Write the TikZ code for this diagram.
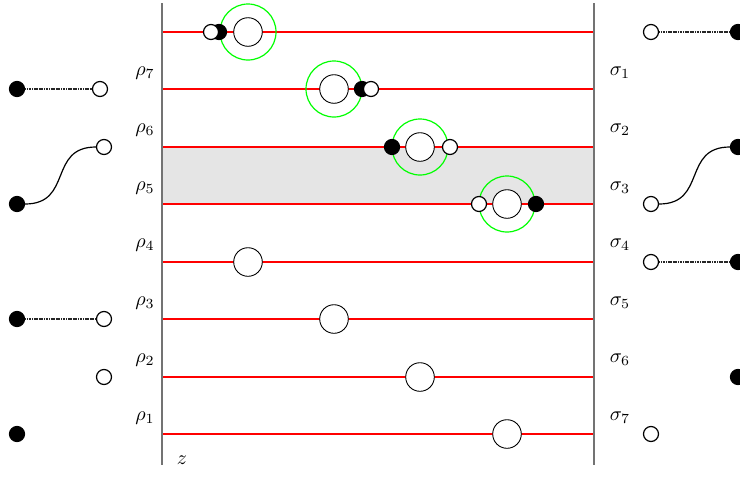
\documentclass[tikz,border=0pt]{standalone}
\usetikzlibrary{calc}
\begin{document}
\begin{tikzpicture}[x=0.5pt,y=-0.5pt,
  axisline/.style={draw=black!55,line width=0.8pt},
  level/.style={draw=red,line width=0.65pt},
  big/.style={circle,draw=black,fill=white,line width=0.45pt,minimum size=14.3pt,inner sep=0pt},
  halo/.style={circle,draw=green,line width=0.6pt,minimum size=28pt,inner sep=0pt},
  wdot/.style={circle,draw=black,fill=white,line width=0.6pt,minimum size=7.5pt,inner sep=0pt},
  bdot/.style={circle,draw=black,fill=black,line width=0.6pt,minimum size=7.5pt,inner sep=0pt},
  link/.style={draw=black!85,dash pattern=on 0.6pt off 0.25pt,line width=0.55pt},
  curvelink/.style={draw=black,line width=0.6pt},
  lab/.style={inner sep=0pt}]
\useasboundingbox (0,0) rectangle (740,493);
% shaded band
\fill[black!10,rounded corners=2pt] (162,147) rectangle (594,204);
% levels
\foreach \y/\n in {32/0,89/1,147/2,204/3,262/4,319/5,377/6,434/7}{
  \coordinate (L\n) at (162,\y);
  \coordinate (R\n) at (594,\y);
  \draw[level] (L\n) -- (R\n);
}
% vertical axes
\coordinate (lt) at (162,3); \coordinate (lb) at (162,465);
\coordinate (rt) at (594,3); \coordinate (rb) at (594,465);
\draw[axisline] (lt) -- (lb);
\draw[axisline] (rt) -- (rb);
% green halos
\node[halo] (h1) at (248,32) {};
\node[halo] (h2) at (334,89) {};
\node[halo] (h3) at (420,147) {};
\node[halo] (h4) at (507,204) {};
% big circles
\node[big] (c1) at (248,32) {};
\node[big] (c2) at (334,89) {};
\node[big] (c3) at (420,147) {};
\node[big] (c4) at (507,204) {};
\node[big] (c5) at (248,262) {};
\node[big] (c6) at (334,319) {};
\node[big] (c7) at (420,377) {};
\node[big] (c8) at (507,434) {};
% small dots on levels
\node[bdot] (s1b) at (219,32) {};
\node[wdot] (s1w) at (211,32) {};
\node[bdot] (s2b) at (362,89) {};
\node[wdot] (s2w) at (371,89) {};
\node[bdot] (s3b) at (392,147) {};
\node[wdot] (s3w) at (450,147) {};
\node[wdot] (s4w) at (479,204) {};
\node[bdot] (s4b) at (536,204) {};
% labels
\foreach \k/\y in {7/73,6/130,5/188,4/245,3/303,2/360,1/418}{
  \node[lab] (rho\k) at (145,\y) {$\rho_{\k}$};
}
\foreach \k/\y in {1/73,2/130,3/188,4/245,5/303,6/360,7/418}{
  \node[lab] (sig\k) at (620,\y) {$\sigma_{\k}$};
}
\node[lab] (z) at (182,460) {$z$};
% left side
\node[bdot] (lb1) at (17,89) {};
\node[wdot] (lw1) at (100,89) {};
\draw[link] (lb1) -- (lw1);
\node[bdot] (lb2) at (17,204) {};
\node[wdot] (lw2) at (104,147) {};
\draw[curvelink] (lb2) to[out=0,in=180,looseness=1.35] (lw2);
\node[bdot] (lb3) at (17,319) {};
\node[wdot] (lw3) at (104,319) {};
\draw[link] (lb3) -- (lw3);
\node[wdot] (lw4) at (104,377) {};
\node[bdot] (lb4) at (17,434) {};
% right side
\node[wdot] (rw1) at (651,32) {};
\node[bdot] (rb1) at (738,32) {};
\draw[link] (rw1) -- (rb1);
\node[bdot] (rb2) at (738,147) {};
\node[wdot] (rw2) at (651,204) {};
\draw[curvelink] (rw2) to[out=0,in=180,looseness=1.35] (rb2);
\node[wdot] (rw3) at (651,262) {};
\node[bdot] (rb3) at (738,262) {};
\draw[link] (rw3) -- (rb3);
\node[bdot] (rb4) at (738,377) {};
\node[wdot] (rw4) at (651,434) {};
\end{tikzpicture}
\end{document}
